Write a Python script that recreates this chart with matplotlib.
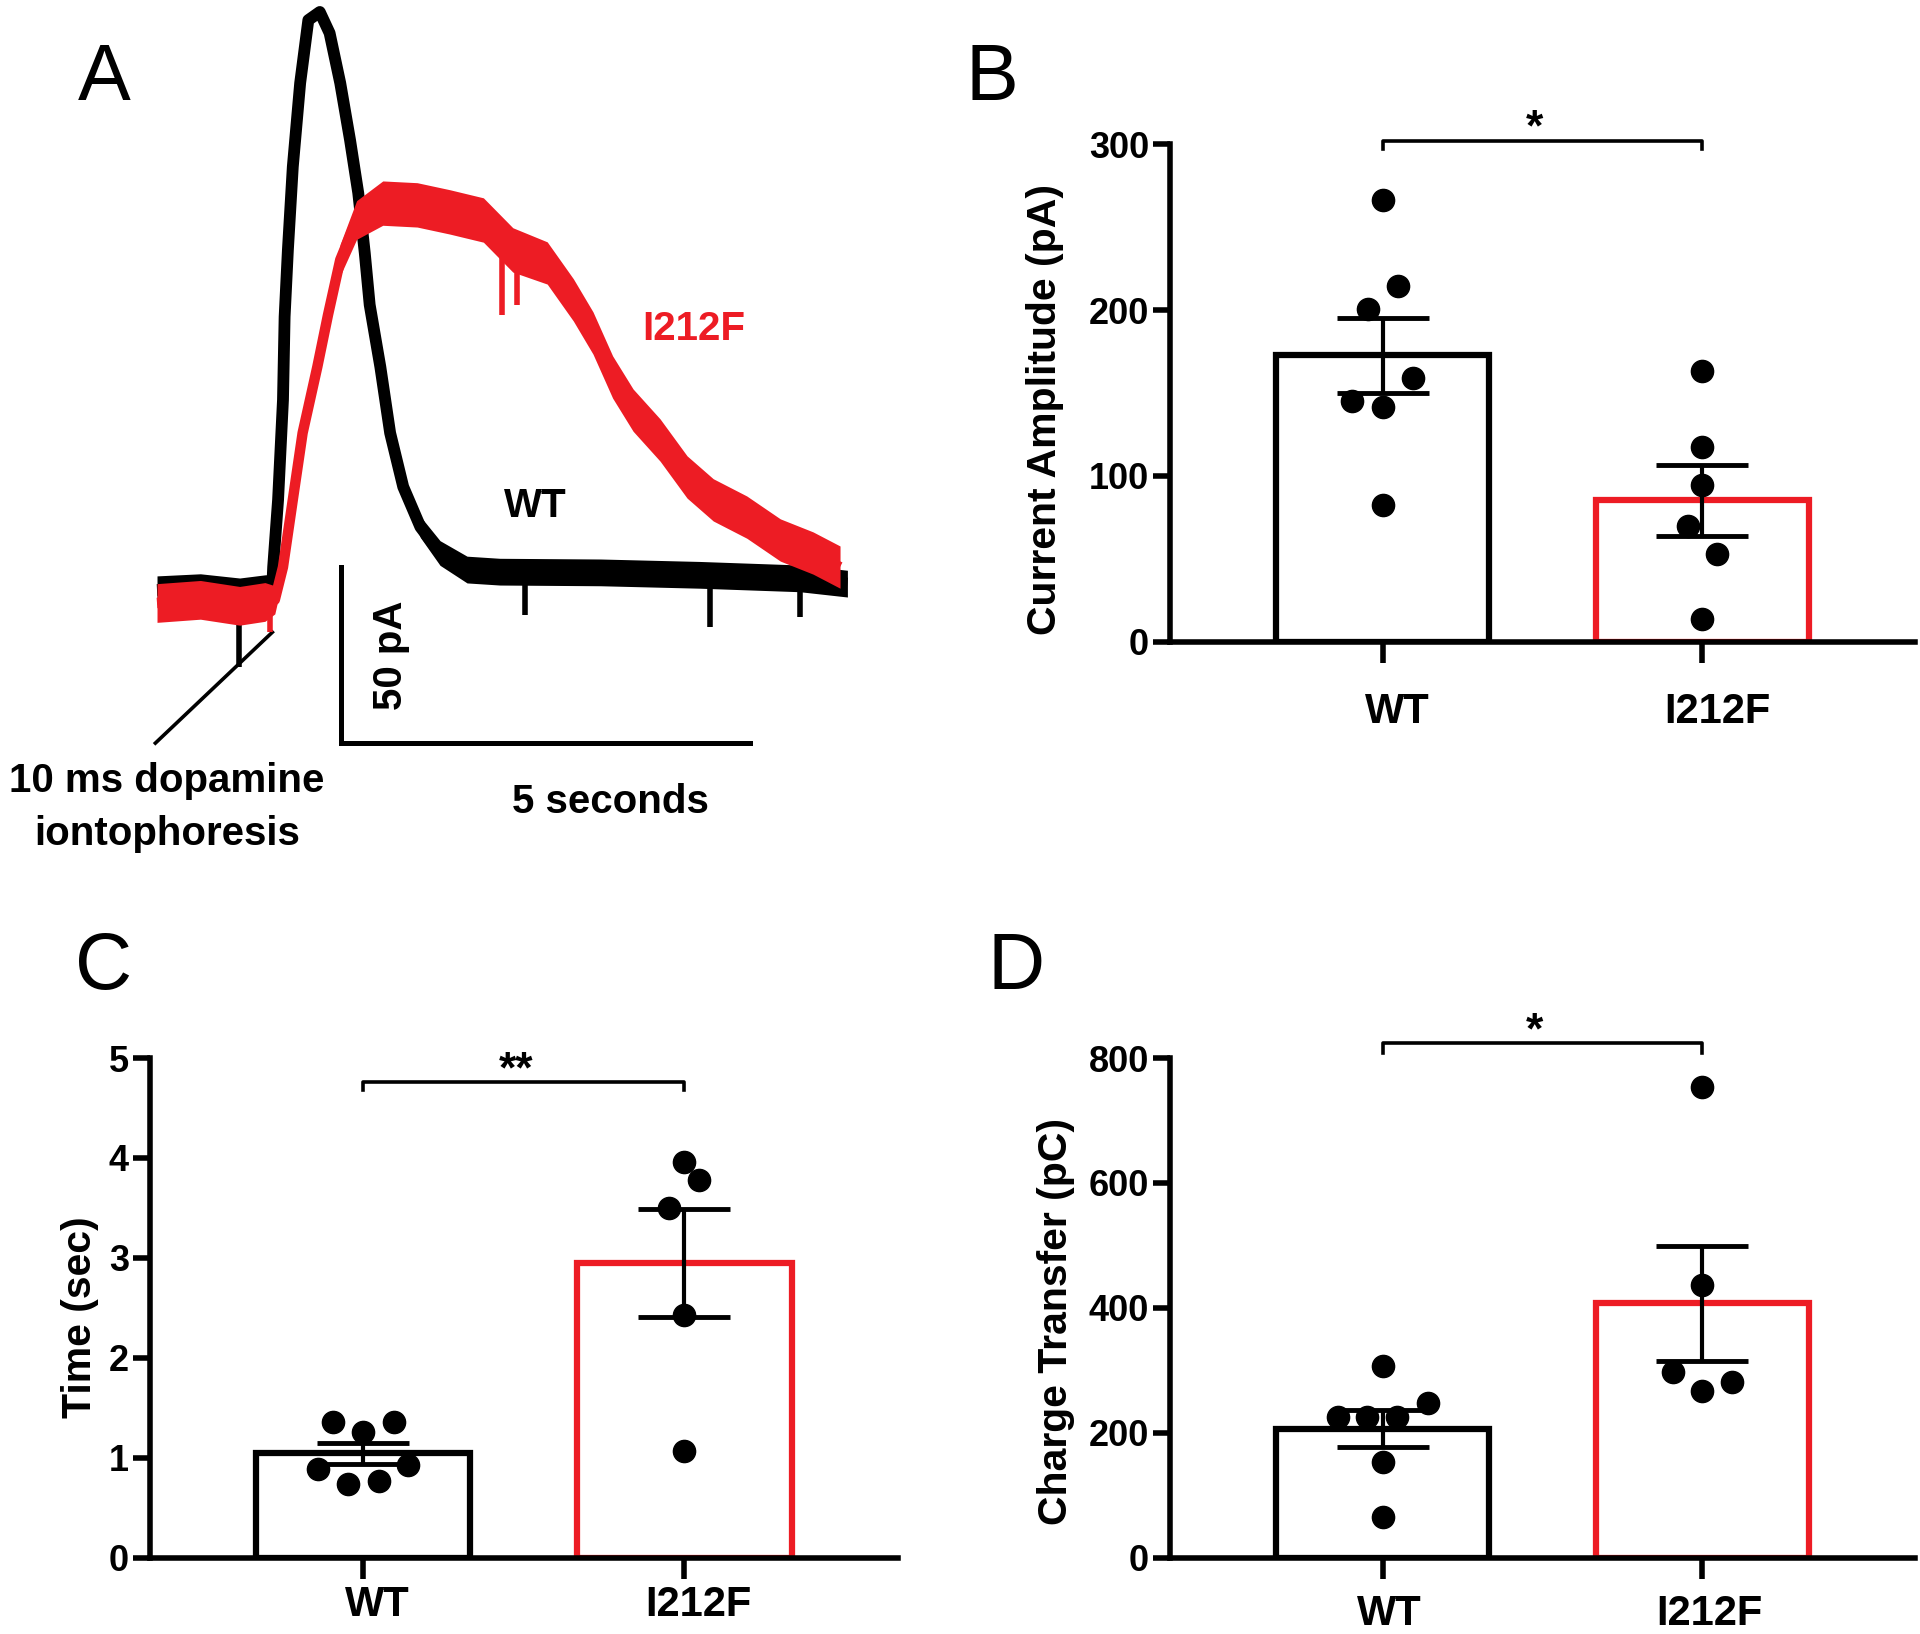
import numpy as np
import matplotlib
matplotlib.use("Agg")
from matplotlib import pyplot as plt
from matplotlib.transforms import ScaledTranslation

RED = "#ED1C24"
plt.rcParams["font.family"] = ["Liberation Sans", "DejaVu Sans"]

# ---- panel A: example traces (time in s, current in pA) ----
wt_t = [0.00, 0.53, 1.01, 1.32, 1.41, 1.42, 1.48, 1.54, 1.56, 1.60, 1.66, 1.75, 1.85, 1.99,
        2.11, 2.24, 2.36, 2.46, 2.54, 2.60, 2.73, 2.85, 3.01, 3.22, 3.46, 3.79, 4.19, 5.42,
        6.64, 7.86, 8.44]
wt_pa = [0.0, 0.6, -0.6, 0.3, 1.4, 6.5, 25.6, 54.0, 77.6, 96.6, 120.2, 144.0, 161.9, 164.2,
         158.2, 144.0, 127.8, 112.8, 95.7, 81.0, 63.4, 44.6, 29.3, 17.9, 10.5, 5.8, 5.2, 5.0,
         4.3, 3.3, 1.8]
wt_noise = [4.0, 4.0, 4.0, 4.0, 3.0, 1.0, 1.0, 1.0, 1.0, 1.0, 1.0, 1.0, 1.0, 1.0,
            1.0, 1.0, 1.0, 1.0, 1.0, 1.0, 1.5, 2.0, 2.5, 3.0, 3.5, 3.8, 3.8, 3.8,
            3.8, 3.8, 3.8]

i212f_t = [0.00, 0.53, 1.01, 1.32, 1.44, 1.54, 1.66, 1.78, 1.96, 2.09, 2.24, 2.44, 2.76, 3.18,
           3.58, 3.99, 4.35, 4.77, 5.09, 5.33, 5.57, 5.82, 6.15, 6.48, 6.80, 7.21, 7.62, 8.02,
           8.35]
i212f_pa = [-3.7, -2.8, -4.5, -3.4, -2.8, 6.5, 25.6, 44.6, 63.4, 78.1, 93.8, 105.1, 109.9, 109.4,
            107.4, 105.1, 96.6, 92.9, 82.4, 73.0, 60.5, 51.1, 42.6, 32.1, 25.6, 20.7, 14.2, 10.5,
            6.5]
i212f_noise = [5.5, 5.5, 5.5, 5.5, 4.0, 3.0, 3.0, 3.0, 3.0, 3.5, 4.5, 5.5, 6.3, 6.3,
               6.3, 6.3, 6.3, 6.0, 6.0, 6.0, 6.0, 6.0, 6.0, 6.0, 6.0, 6.0, 6.0, 6.0,
               6.0]

wt_spike_t = [1.00, 4.50, 6.76, 7.86]
wt_spike_pa = [-22.0, -7.0, -10.5, -7.7]
i212f_spike_t = [1.38, 4.22, 4.40]
i212f_spike_pa = [-12.0, 78.0, 81.0]

scalebar_t, scalebar_pa = 2.25, -43.5
scalebar_len_s, scalebar_len_pa = 5.0, 50.0

# ---- panels B-D: individual cells ----
groups = ["WT", "I212F"]

amp_wt = [266.6, 214.5, 200.7, 159.0, 145.0, 141.8, 82.3]
amp_wt_dx = [0.0, 0.048, -0.046, 0.095, -0.095, 0.0, 0.0]
amp_i212f = [163.4, 117.2, 94.6, 70.0, 52.8, 13.5]
amp_i212f_dx = [0.0, 0.0, 0.0, -0.046, 0.046, 0.0]

time_wt = [1.354, 1.362, 1.261, 0.889, 0.930, 0.740, 0.768]
time_wt_dx = [-0.095, 0.095, 0.0, -0.141, 0.141, -0.048, 0.048]
time_i212f = [3.961, 3.779, 3.496, 2.425, 1.071]
time_i212f_dx = [0.0, 0.044, -0.048, 0.0, 0.0]

charge_wt = [306.4, 246.8, 225.4, 225.4, 225.4, 152.8, 64.8]
charge_wt_dx = [0.0, 0.141, -0.141, -0.048, 0.046, 0.0, 0.0]
charge_i212f = [753.2, 435.9, 297.9, 280.4, 267.5]
charge_i212f_dx = [0.0, 0.0, -0.092, 0.092, 0.0]


fig = plt.figure(figsize=(19.2, 16.34), dpi=100)

# ---------------- panel A ----------------
axA = fig.add_axes([122 / 1920, 1 - 760 / 1634, 760 / 1920, 760 / 1634])
axA.set_xlim(-0.428, 8.863)
axA.set_ylim(-48.3, 167.6)
axA.axis("off")

for t, pa, nz, col, z, lw in [(wt_t, wt_pa, wt_noise, "black", 2, 8.5),
                              (i212f_t, i212f_pa, i212f_noise, RED, 3, 7.5)]:
    t = np.array(t)
    pa = np.array(pa)
    nz = np.array(nz)
    axA.fill_between(t, pa - nz, pa + nz, color=col, lw=0, zorder=z, clip_on=False)
    axA.plot(t, pa, color=col, lw=lw, solid_joinstyle="round", solid_capstyle="butt",
             zorder=z, clip_on=False)

axA.vlines(wt_spike_t, np.interp(wt_spike_t, wt_t, wt_pa), wt_spike_pa, color="black", lw=4, zorder=2)
axA.vlines(i212f_spike_t, np.interp(i212f_spike_t, i212f_t, i212f_pa), i212f_spike_pa,
           color=RED, lw=4, zorder=3)

# scale bar
axA.plot([scalebar_t, scalebar_t, scalebar_t + scalebar_len_s],
         [scalebar_pa + scalebar_len_pa, scalebar_pa, scalebar_pa],
         color="black", lw=3.6, solid_joinstyle="miter", clip_on=False)
axA.text(3.0, scalebar_pa + scalebar_len_pa / 2, "50 pA", rotation=90, rotation_mode="anchor",
         ha="center", va="baseline", fontsize=29, fontweight="bold")
axA.text(5.54, -63.4, "5 seconds", ha="center", va="baseline", fontsize=29, fontweight="bold")

# stimulus pointer
axA.plot([-0.02, 1.41], [-43.5, -12.0], color="black", lw=2.6, clip_on=False)
axA.text(0.12, -57.4, "10 ms dopamine", ha="center", va="baseline", fontsize=29, fontweight="bold")
axA.text(0.12, -72.4, "iontophoresis", ha="center", va="baseline", fontsize=29, fontweight="bold")

axA.text(4.63, 20.7, "WT", ha="center", va="baseline", fontsize=29, fontweight="bold")
axA.text(6.56, 71.0, "I212F", ha="center", va="baseline", fontsize=29, fontweight="bold", color=RED)


# ---------------- bar panels ----------------
def bar_panel(rect, wt, wt_dx, mut, mut_dx, ymax, yticks, ylabel, label_xy,
              bracket_y, bracket_drop, stars, xpad, xshift):
    ax = fig.add_axes(rect)
    data = [np.array(wt), np.array(mut)]
    dxs = [np.array(wt_dx), np.array(mut_dx)]
    means = [d.mean() for d in data]
    sems = [d.std(ddof=1) / np.sqrt(len(d)) for d in data]
    x = np.arange(len(groups))
    ax.bar(x, means, width=0.668, facecolor="white", edgecolor=["black", RED],
           linewidth=4.5, zorder=2)
    ax.errorbar(x, means, yerr=sems, fmt="none", ecolor="black", elinewidth=3,
                capsize=33, capthick=3.5, zorder=3)
    for i in range(len(groups)):
        ax.plot(x[i] + dxs[i], data[i], "o", color="black", markersize=16, zorder=4,
                clip_on=False)

    ax.set_xlim(-0.665, 1.665)
    ax.set_ylim(0, ymax)
    ax.set_yticks(yticks)
    ax.set_yticklabels([str(v) for v in yticks], fontweight="bold", fontsize=26)
    ax.set_xticks(x)
    ax.set_xticklabels([])
    # category names sit a little right of their ticks, as in the original
    shift = ScaledTranslation(xshift, -(15 + xpad) / 72, fig.dpi_scale_trans)
    for xi, name in zip(x, groups):
        ax.text(xi, 0, name, transform=ax.get_xaxis_transform() + shift,
                ha="center", va="top", fontsize=30, fontweight="bold")
    for s in ["top", "right"]:
        ax.spines[s].set_visible(False)
    for s in ["left", "bottom"]:
        ax.spines[s].set_linewidth(4)
    ax.tick_params(axis="y", length=12, width=4, pad=3)
    ax.tick_params(axis="x", length=15, width=4)
    ax.set_ylabel(ylabel, fontsize=29.5, fontweight="bold")
    ax.yaxis.set_label_coords(*label_xy)

    ax.plot([0, 0, 1, 1], [bracket_y - bracket_drop, bracket_y, bracket_y, bracket_y - bracket_drop],
            color="black", lw=2.6, clip_on=False)
    ax.text(0.475, bracket_y, stars, ha="center", va="baseline", fontsize=32, fontweight="bold")
    return ax


bar_panel([1170 / 1920, 1 - 641.6 / 1634, 745 / 1920, 497.1 / 1634],
          amp_wt, amp_wt_dx, amp_i212f, amp_i212f_dx, 300, [0, 100, 200, 300],
          "Current Amplitude (pA)", (-0.142, 0.466), 302.2, 4.8, "*", 21, 0.15)

bar_panel([149.6 / 1920, 1 - 1557.6 / 1634, 748.4 / 1920, 499.6 / 1634],
          time_wt, time_wt_dx, time_i212f, time_i212f_dx, 5, [0, 1, 2, 3, 4, 5],
          "Time (sec)", (-0.067, 0.482), 4.755, 0.08, "**", 5, 0.14)

bar_panel([1170 / 1920, 1 - 1557.6 / 1634, 745 / 1920, 499.6 / 1634],
          charge_wt, charge_wt_dx, charge_i212f, charge_i212f_dx, 800, [0, 200, 400, 600, 800],
          "Charge Transfer (pC)", (-0.128, 0.473), 823.5, 16, "*", 11, 0.07)

# panel letters
for letter, px, py in [("A", 104, 100), ("B", 992, 100), ("C", 104, 989), ("D", 1016, 989)]:
    fig.text(px / 1920, 1 - py / 1634, letter, ha="center", va="baseline", fontsize=57)

fig.savefig("out.png", dpi=100, facecolor="white")
